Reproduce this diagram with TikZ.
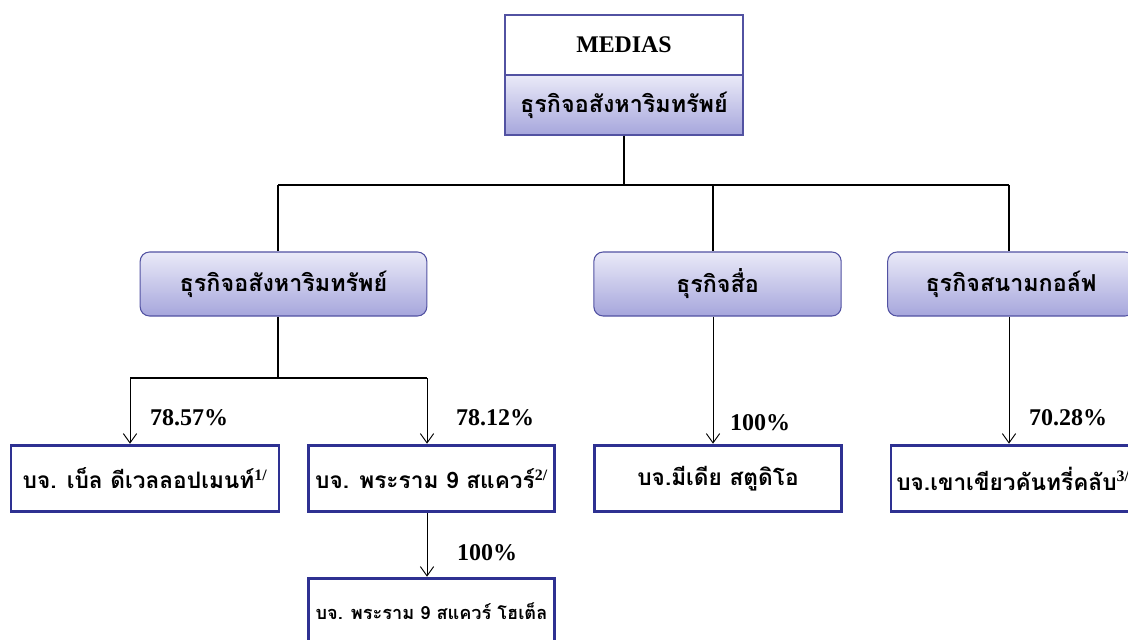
\documentclass[tikz,border=0pt]{standalone}
\usepackage{fontspec}
\setmainfont{Liberation Serif}
\newfontfamily\thaifont[Script=Thai]{Loma}
\usetikzlibrary{arrows.meta, positioning}

\definecolor{boxline}{RGB}{82,82,162}
\definecolor{navy}{RGB}{46,49,146}
\definecolor{shadetop}{RGB}{234,234,248}
\definecolor{shadebot}{RGB}{166,166,220}

\begin{document}
\begin{tikzpicture}[
    x=0.75pt, y=-0.75pt,
    >={Straight Barb[length=7pt, width=10pt]},
    every node/.style={inner sep=0pt},
    headcell/.style={draw=boxline, line width=0.8pt, minimum width=178.5pt, minimum height=45pt},
    groupbox/.style={draw=boxline, line width=0.8pt, rounded corners=7pt,
        top color=shadetop, bottom color=shadebot, minimum height=48pt,
        font=\thaifont\bfseries\fontsize{17.5}{20}\selectfont},
    firmbox/.style={draw=navy, line width=2.2pt, minimum height=50pt,
        font=\thaifont\bfseries\fontsize{17}{20}\selectfont},
    share/.style={font=\bfseries\fontsize{18}{20}\selectfont},
    trunk/.style={line width=1.6pt},
    branch/.style={line width=0.7pt, ->}
]
\clip (0,0) rectangle (1128,639);

% Holding company
\node[headcell, fill=white, font=\bfseries\fontsize{17.9}{20}\selectfont] (medias) at (624,45) {MEDIAS};
\node[headcell, top color=shadetop, bottom color=shadebot,
      font=\thaifont\bfseries\fontsize{17.5}{20}\selectfont] (mediasbiz) at (624,105) {ธุรกิจอสังหาริมทรัพย์};

% Business groups
\node[groupbox, minimum width=215pt] (realty) at (283.5,284) {ธุรกิจอสังหาริมทรัพย์};
\node[groupbox, minimum width=185.5pt] (media) at (717.5,284) {ธุรกิจสื่อ};
\node[groupbox, minimum width=185pt] (golf) at (1011,284) {ธุรกิจสนามกอล์ฟ};

% Companies
\node[firmbox, minimum width=201pt] (bell) at (145,478.5) {บจ. เบ็ล ดีเวลลอปเมนท์\textsuperscript{\rmfamily 1/}};
\node[firmbox, minimum width=185pt] (rama) at (431.5,478.5) {บจ. พระราม 9 สแควร์\textsuperscript{\rmfamily 2/}};
\node[firmbox, minimum width=185pt] (studio) at (718,478.5) {บจ.มีเดีย สตูดิโอ};
\node[firmbox, minimum width=195pt] (kkcc) at (1021,478.5) {};
\node[anchor=west, font=\thaifont\bfseries\fontsize{17}{20}\selectfont] (kkcctext) at (896,478.5) {บจ.เขาเขียวคันทรี่คลับ\textsuperscript{\rmfamily 3/}};
\node[firmbox, minimum width=185pt, font=\thaifont\bfseries\fontsize{13.6}{16}\selectfont] (hotel) at (431.5,611.5) {บจ. พระราม 9 สแควร์ โฮเต็ล};

% Junctions
\coordinate (top) at (624,185);
\coordinate (jL) at (278,185);
\coordinate (jM) at (713,185);
\coordinate (jR) at (1009,185);
\coordinate (kM) at (278,378);
\coordinate (kL) at (130,378);
\coordinate (kR) at (427,378);

\draw[trunk] (mediasbiz.south) -- (top);
\draw[trunk] (jL) -- (jR);
\draw[trunk] (jL) -- (jL |- realty.north);
\draw[line width=0.8pt] (jM) -- (jM |- media.north);
\draw[line width=0.8pt] (jR) -- (jR |- golf.north);

\draw[trunk] (kM |- realty.south) -- (kM);
\draw[trunk] (kL) -- (kR);
\draw[branch] (kL) -- (kL |- bell.north);
\draw[branch] (kR) -- (kR |- rama.north);
\draw[branch] (jM |- media.south) -- (jM |- studio.north);
\draw[branch] (jR |- golf.south) -- (jR |- kkcc.north);
\draw[branch] (kR |- rama.south) -- (kR |- hotel.north);

% Holdings
\node[share] (pbell) at (189,418) {78.57\%};
\node[share] (prama) at (495,418) {78.12\%};
\node[share] (pstudio) at (760,423) {100\%};
\node[share] (pkkcc) at (1068,418) {70.28\%};
\node[share] (photel) at (487,553) {100\%};

\end{tikzpicture}
\end{document}
